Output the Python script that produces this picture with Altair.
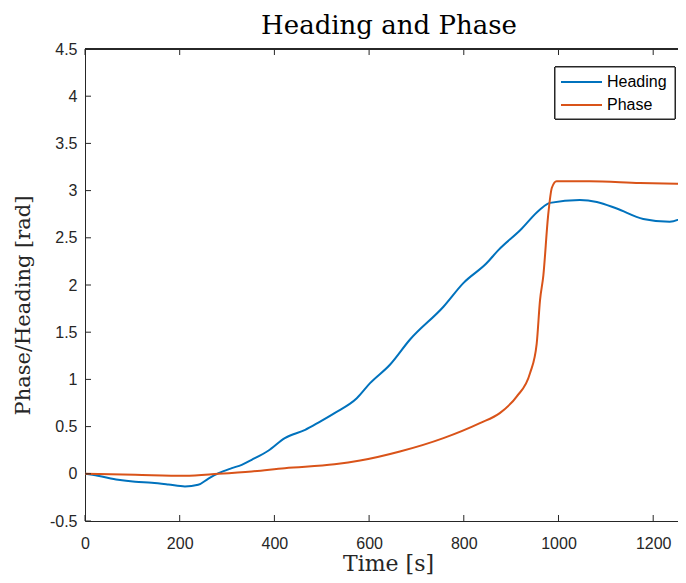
import altair as alt
import pandas as pd

# Heading series (time [s], value [rad])
heading_t = [0, 27, 70, 106, 141, 176, 211, 239, 260, 282, 310, 331, 352, 387, 422,
             465, 493, 527, 574, 602, 644, 686, 757, 799, 848, 873, 919, 961, 982,
             1045, 1081, 1123, 1179, 1235, 1269]
heading_v = [0, -0.02, -0.064, -0.085, -0.095, -0.113, -0.134, -0.117, -0.053, 0.007,
             0.06, 0.095, 0.148, 0.244, 0.378, 0.466, 0.543, 0.643, 0.80, 0.96, 1.155,
             1.42, 1.77, 2.02, 2.23, 2.37, 2.58, 2.80, 2.87, 2.90, 2.88, 2.81, 2.70,
             2.67, 2.73]

# Phase series
phase_t = [0, 106, 211, 282, 352, 422, 527, 581, 665, 757, 834, 876, 912, 940, 954,
           961, 968, 978, 986, 996, 1066, 1172, 1269]
phase_v = [0, -0.01, -0.02, 0, 0.025, 0.06, 0.10, 0.14, 0.236, 0.378, 0.537, 0.643,
           0.82, 1.067, 1.38, 1.84, 2.1, 2.73, 3.03, 3.10, 3.10, 3.08, 3.07]

x_ticks = [0, 200, 400, 600, 800, 1000, 1200]
y_ticks = [-0.5, 0, 0.5, 1, 1.5, 2, 2.5, 3, 3.5, 4, 4.5]

series_names = ["Heading", "Phase"]
series_colors = ["#0072BD", "#D95319"]
title_text = "Heading and Phase"

df = pd.concat([
    pd.DataFrame({"t": heading_t, "v": heading_v, "s": "Heading"}),
    pd.DataFrame({"t": phase_t, "v": phase_v, "s": "Phase"}),
])

W, H = 593, 472
AX = "#262626"
xscale = alt.Scale(domain=[0, 1252.4], nice=False, zero=False)
yscale = alt.Scale(domain=[-0.5, 4.5], nice=False, zero=False)

xaxis = alt.Axis(values=x_ticks, title="Time [s]", grid=False, ticks=False, tickSize=0,
                 labelPadding=14, labelFont="Liberation Sans", labelFontSize=16,
                 labelColor=AX, domainColor=AX, domainWidth=1,
                 labelExpr="toString(datum.value)",
                 titleFont="DejaVu Serif", titleFontSize=22, titleFontWeight="normal",
                 titleColor=AX, titleX=303, titleY=49, titleBaseline="alphabetic",
                 labelFlush=False)
yaxis = alt.Axis(values=y_ticks, title="Phase/Heading [rad]", grid=False, ticks=False,
                 tickSize=0, labelPadding=8, labelFont="Liberation Sans",
                 labelFontSize=16, labelColor=AX, domainColor=AX, domainWidth=1,
                 labelExpr="toString(datum.value)",
                 titleFont="DejaVu Serif", titleFontSize=21, titleFontWeight="normal",
                 titleColor=AX, titleX=-62, titleY=256, titleBaseline="middle",
                 labelFlush=False)

lines = alt.Chart(df).mark_line(strokeWidth=2, interpolate="monotone", clip=True).encode(
    x=alt.X("t:Q", scale=xscale, axis=xaxis),
    y=alt.Y("v:Q", scale=yscale, axis=yaxis),
    color=alt.Color("s:N", scale=alt.Scale(domain=series_names, range=series_colors),
                    legend=None),
)

xt = pd.DataFrame({"t": x_ticks})
yt = pd.DataFrame({"v": y_ticks})

xticks_bottom = alt.Chart(xt).mark_rule(color=AX, strokeWidth=1).encode(
    x=alt.X("t:Q", scale=xscale, axis=xaxis), y=alt.value(H - 6), y2=alt.value(H))
xticks_top = alt.Chart(xt).mark_rule(color=AX, strokeWidth=1).encode(
    x=alt.X("t:Q", scale=xscale, axis=xaxis), y=alt.value(0), y2=alt.value(6))
yticks_left = alt.Chart(yt).mark_rule(color=AX, strokeWidth=1).encode(
    y=alt.Y("v:Q", scale=yscale, axis=yaxis), x=alt.value(0), x2=alt.value(6))
top_border = alt.Chart(xt).mark_rule(color=AX, strokeWidth=1).encode(
    x=alt.value(0), x2=alt.value(W), y=alt.value(0))

title = alt.Chart(pd.DataFrame({"txt": [title_text]})).mark_text(
    font="DejaVu Serif", fontSize=26, color="black", align="center",
    baseline="alphabetic").encode(text="txt:N", x=alt.value(304), y=alt.value(-15))

# legend (drawn manually)
leg_box = alt.Chart(xt).mark_rect(fill="white", stroke=AX, strokeWidth=1).encode(
    x=alt.value(470), x2=alt.value(590), y=alt.value(18), y2=alt.value(70))
leg_layers = [leg_box]
for i, (name, col) in enumerate(zip(series_names, series_colors)):
    yy = 33 + 23 * i
    ldf = pd.DataFrame({"s": [name]})
    leg_layers.append(alt.Chart(ldf).mark_rule(color=col, strokeWidth=2).encode(
        x=alt.value(476), x2=alt.value(517), y=alt.value(yy)))
    leg_layers.append(alt.Chart(ldf).mark_text(
        font="Liberation Sans", fontSize=16, color="black", align="left",
        baseline="middle").encode(text="s:N", x=alt.value(522), y=alt.value(yy)))

chart = alt.layer(lines, xticks_bottom, xticks_top, yticks_left, top_border, title,
                  *leg_layers).properties(
    width=W, height=H,
    autosize=alt.AutoSizeParams(type="none"),
    padding={"left": 77, "top": 41, "right": 0, "bottom": 54},
).configure_view(stroke=None).configure(background="white")

chart.save("out.html", embed_options={"renderer": "svg", "actions": False})
